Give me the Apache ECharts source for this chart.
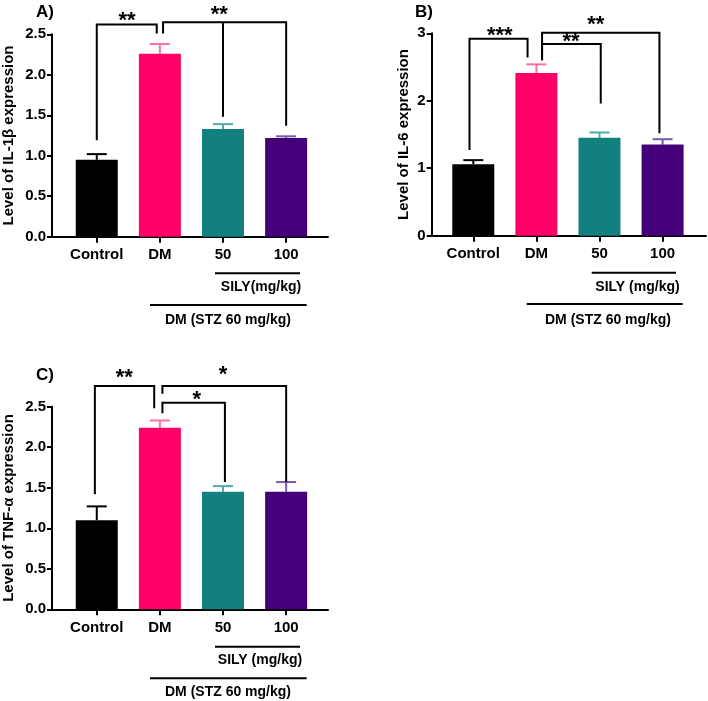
<!DOCTYPE html>
<html>
<head>
<meta charset="utf-8">
<script src="https://cdn.jsdelivr.net/npm/echarts@6/dist/echarts.min.js"></script>
<style>html,body{margin:0;padding:0;background:#fff;}#chart{width:708px;height:701px;}</style>
</head>
<body>
<div id="chart"></div>
<script>
// ---------- data ----------
const categories = ['Control', 'DM', '50', '100'];

const il1b_mean = [0.95, 2.26, 1.33, 1.22];
const il1b_sem  = [0.07, 0.12, 0.06, 0.02];
const il6_mean  = [1.06, 2.41, 1.45, 1.35];
const il6_sem   = [0.06, 0.13, 0.08, 0.08];
const tnf_mean  = [1.10, 2.24, 1.45, 1.45];
const tnf_sem   = [0.17, 0.09, 0.07, 0.12];

const yTicksA = [0, 0.5, 1.0, 1.5, 2.0, 2.5];
const yTicksB = [0, 1, 2, 3];
const yTicksC = [0, 0.5, 1.0, 1.5, 2.0, 2.5];

// significance brackets: [xLeft, yLeftBottom, xRight, yRightBottom, yTop]
const il1b_brackets = [[0.0, 1.19, 0.95, 2.51, 2.62], [1.05, 2.51, 3.0, 1.37, 2.65]];
const il1b_midlegs  = [[2.0, 1.48, 2.65]];
const il1b_stars    = [['**', 0.48, 2.67], ['**', 1.94, 2.74]];

const il6_brackets = [[-0.06, 1.27, 0.86, 2.64, 2.92], [1.09, 2.60, 2.02, 1.96, 2.84], [1.09, 2.60, 2.95, 1.52, 3.01]];
const il6_midlegs  = [];
const il6_stars    = [['***', 0.42, 2.96], ['**', 1.55, 2.87], ['**', 1.94, 3.13]];

const tnf_brackets = [[-0.03, 1.42, 0.91, 2.48, 2.755], [1.04, 2.66, 3.0, 1.57, 2.755], [1.04, 2.42, 2.03, 1.57, 2.55]];
const tnf_midlegs  = [];
const tnf_stars    = [['**', 0.435, 2.85], ['*', 2.0, 2.89], ['*', 1.585, 2.58]];

// ---------- styles ----------
const barColors = ['#000000', '#FF0066', '#11807E', '#440078'];
const errColors = ['#000000', '#FF6FA6', '#52A9A7', '#7A58A8'];
const FONT = 'Liberation Sans, Arial, sans-serif';

const chart = echarts.init(document.getElementById('chart'), null, {renderer: 'canvas'});

function xAxisDef(gi, min, max) {
  return {
    type: 'value', gridIndex: gi, min: min, max: max,
    axisLine: {show: true, onZero: false, lineStyle: {color: '#000', width: 2}},
    axisTick: {show: true, customValues: [0, 1, 2, 3], length: 6, lineStyle: {color: '#000', width: 2}},
    axisLabel: {customValues: [0, 1, 2, 3], formatter: v => categories[Math.round(v)], margin: 11,
      color: '#000', fontFamily: FONT, fontWeight: 'bold', fontSize: 15},
    splitLine: {show: false}
  };
}
function yAxisDef(gi, ticks, name, gap, dec) {
  return {
    type: 'value', gridIndex: gi, min: ticks[0], max: ticks[ticks.length - 1],
    interval: ticks[1] - ticks[0],
    axisLine: {show: true, onZero: false, lineStyle: {color: '#000', width: 2}},
    axisTick: {show: true, length: 5, lineStyle: {color: '#000', width: 2}},
    axisLabel: {formatter: v => v.toFixed(dec), margin: 6, color: '#000',
      fontFamily: FONT, fontWeight: 'bold', fontSize: 15},
    splitLine: {show: false},
    name: name, nameLocation: 'middle', nameGap: gap,
    nameTextStyle: {color: '#000', fontFamily: FONT, fontWeight: 'bold', fontSize: 15}
  };
}
function barSeries(gi, means) {
  return {
    type: 'bar', xAxisIndex: gi, yAxisIndex: gi, barWidth: 42, silent: true,
    data: means.map((v, i) => ({value: [i, v], itemStyle: {color: barColors[i]}}))
  };
}
function errSeries(gi, means, sems) {
  return {
    type: 'custom', xAxisIndex: gi, yAxisIndex: gi, silent: true, z: 1,
    data: means.map((v, i) => [i, v, v + sems[i]]),
    renderItem: (params, api) => {
      const i = params.dataIndex;
      const lo = api.coord([api.value(0), api.value(1)]);
      const hi = api.coord([api.value(0), api.value(2)]);
      const st = {stroke: errColors[i], lineWidth: 2};
      return {type: 'group', children: [
        {type: 'line', shape: {x1: lo[0], y1: lo[1], x2: hi[0], y2: hi[1]}, style: st},
        {type: 'line', shape: {x1: hi[0] - 10, y1: hi[1], x2: hi[0] + 10, y2: hi[1]}, style: st}
      ]};
    }
  };
}
function bracketSeries(gi, brackets, midlegs) {
  return {
    type: 'custom', xAxisIndex: gi, yAxisIndex: gi, silent: true,
    data: brackets,
    renderItem: (params, api) => {
      const b = brackets[params.dataIndex];
      const p1 = api.coord([b[0], b[1]]), p2 = api.coord([b[0], b[4]]);
      const p3 = api.coord([b[2], b[4]]), p4 = api.coord([b[2], b[3]]);
      const children = [{type: 'polyline', shape: {points: [p1, p2, p3, p4]},
        style: {stroke: '#000', lineWidth: 2, fill: null}}];
      midlegs.forEach(m => {
        if (m[0] > b[0] && m[0] < b[2] && Math.abs(m[2] - b[4]) < 1e-6) {
          const a = api.coord([m[0], m[2]]), c = api.coord([m[0], m[1]]);
          children.push({type: 'line', shape: {x1: a[0], y1: a[1], x2: c[0], y2: c[1]},
            style: {stroke: '#000', lineWidth: 2}});
        }
      });
      return {type: 'group', children: children};
    }
  };
}
function starSeries(gi, stars) {
  return {
    type: 'custom', xAxisIndex: gi, yAxisIndex: gi, silent: true,
    data: stars.map(s => [s[1], s[2]]),
    renderItem: (params, api) => {
      const s = stars[params.dataIndex];
      const p = api.coord([s[1], s[2]]);
      return {type: 'text', x: p[0], y: p[1], style: {text: s[0], fill: '#000',
        font: 'bold 22px ' + FONT, textAlign: 'center', textVerticalAlign: 'middle'}};
    }
  };
}
function txt(x, y, t, size) {
  return {type: 'text', x: x, y: y, style: {text: t, fill: '#000', font: 'bold ' + size + 'px ' + FONT,
    textAlign: 'center', textVerticalAlign: 'middle'}};
}
function hline(x1, x2, y) {
  return {type: 'line', shape: {x1: x1, y1: y, x2: x2, y2: y}, style: {stroke: '#000', lineWidth: 2}};
}

const option = {
  backgroundColor: '#fff',
  animation: false,
  grid: [
    {left: 51.7, top: 34.3, width: 276.3, height: 202.4},
    {left: 431.7, top: 33.3, width: 274.3, height: 202.4},
    {left: 51.7, top: 406.7, width: 276.3, height: 202.6}
  ],
  xAxis: [xAxisDef(0, -0.709, 3.663), xAxisDef(1, -0.659, 3.688), xAxisDef(2, -0.709, 3.663)],
  yAxis: [
    yAxisDef(0, yTicksA, 'Level of IL-1β expression', 36, 1),
    yAxisDef(1, yTicksB, 'Level of IL-6 expression', 20.5, 0),
    yAxisDef(2, yTicksC, 'Level of TNF-α expression', 36, 1)
  ],
  series: [
    errSeries(0, il1b_mean, il1b_sem), barSeries(0, il1b_mean),
    bracketSeries(0, il1b_brackets, il1b_midlegs), starSeries(0, il1b_stars),
    errSeries(1, il6_mean, il6_sem), barSeries(1, il6_mean),
    bracketSeries(1, il6_brackets, il6_midlegs), starSeries(1, il6_stars),
    errSeries(2, tnf_mean, tnf_sem), barSeries(2, tnf_mean),
    bracketSeries(2, tnf_brackets, tnf_midlegs), starSeries(2, tnf_stars)
  ],
  graphic: [
    txt(45, 12, 'A)', 17), txt(424, 12, 'B)', 17), txt(45, 375, 'C)', 17),
    hline(215, 300, 273.3), txt(261, 287.3, 'SILY(mg/kg)', 14),
    hline(150, 306.7, 305), txt(228, 320, 'DM (STZ 60 mg/kg)', 14),
    hline(591.7, 676, 272.7), txt(637.5, 287.3, 'SILY (mg/kg)', 14),
    hline(526.7, 682.7, 304), txt(608, 320, 'DM (STZ 60 mg/kg)', 14),
    hline(215, 300, 646.7), txt(260, 660, 'SILY (mg/kg)', 14),
    hline(150, 306.7, 678.3), txt(228, 691.7, 'DM (STZ 60 mg/kg)', 14)
  ]
};
chart.setOption(option);
</script>
</body>
</html>
